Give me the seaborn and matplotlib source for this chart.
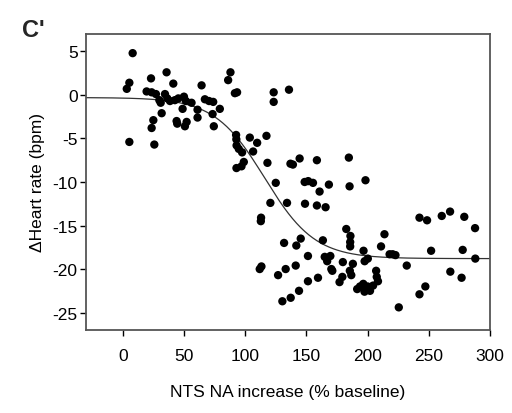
import numpy as np
import pandas as pd
import matplotlib
matplotlib.use("Agg")
import matplotlib.pyplot as plt
import seaborn as sns

# Noradrenaline increase in NTS (% of baseline) and heart-rate change (bpm)
na_increase = [
    3.3, 5.4, 8.1, 5.4, 19.5, 23.1, 23.6, 27.1, 29.9, 31.0,
    25.0, 23.6, 25.8, 31.8, 34.5, 35.8, 36.4, 38.6, 41.3, 42.6,
    45.4, 44.0, 44.5, 48.9, 50.0, 51.6, 50.8, 52.2, 56.2, 61.1,
    61.1, 64.4, 67.1, 70.5, 73.9, 73.4, 74.4, 79.3, 86.1, 88.0,
    91.6, 93.4,
    92.6, 92.8, 93.0, 94.8, 97.5, 103.8, 109.8, 117.4, 106.5, 98.9,
    97.0, 92.9, 118.2, 123.3, 123.3, 135.8, 137.0, 139.0, 144.5, 158.6,
    184.7, 198.3, 125.0, 148.6, 151.5, 155.4, 168.4, 160.8, 185.3, 120.6,
    134.2, 148.9, 158.6, 165.7, 113.0, 112.8, 182.6, 186.0, 185.8, 185.8,
    163.5, 145.4, 141.8, 131.8, 196.7, 197.6, 200.2, 151.3, 165.0, 167.0,
    169.6, 170.4, 171.2, 179.8, 188.0, 185.5, 186.7, 179.4, 177.1, 141.3,
    133.1, 126.9, 113.3, 111.9, 159.5, 151.3, 144.0, 137.2, 130.4,
    191.5, 193.8, 196.5, 197.5, 200.0, 202.0, 204.5,
    207.0, 207.5, 208.5, 211.0, 213.8, 218.0, 220.5, 222.8, 232.0, 225.5,
    242.4, 248.6, 260.6, 267.4, 279.0, 287.8, 251.9, 277.7, 288.0, 267.6,
    276.8, 247.2, 242.4,
]
hr_change = [
    0.7, 1.4, 4.8, -5.4, 0.4, 1.9, 0.3, 0.1, -0.6, -0.9,
    -2.9, -3.8, -5.7, -2.1, 0.1, 2.6, -0.4, -0.7, 1.3, -0.6,
    -0.4, -3.0, -3.3, -1.6, -0.2, -0.7, -3.6, -3.1, -0.9, -1.7,
    -2.6, 1.1, -0.5, -0.7, -0.8, -2.2, -3.6, -1.6, 1.7, 2.6,
    0.2, 0.3,
    -4.6, -5.1, -5.8, -6.2, -6.6, -4.9, -5.5, -4.7, -6.5, -7.7,
    -8.2, -8.4, -7.8, 0.3, -0.8, 0.6, -7.9, -8.0, -7.3, -7.5,
    -7.2, -9.8, -10.1, -10.0, -9.9, -10.1, -10.3, -11.1, -10.5, -12.4,
    -12.4, -12.5, -12.7, -12.9, -14.1, -14.5, -15.4, -16.2, -16.9, -17.4,
    -16.7, -16.5, -17.3, -17.0, -17.9, -19.1, -18.8, -18.5, -18.6, -19.1,
    -18.5, -20.0, -20.2, -19.2, -19.4, -20.2, -20.7, -20.9, -21.5, -19.6,
    -20.0, -20.7, -19.7, -20.0, -21.0, -21.4, -22.5, -23.3, -23.7,
    -22.3, -22.0, -21.7, -22.6, -22.0, -22.5, -21.9,
    -20.2, -20.9, -21.4, -17.4, -16.0, -18.3, -18.3, -18.4, -19.6, -24.4,
    -14.1, -14.4, -13.9, -13.4, -14.0, -15.3, -17.9, -17.8, -18.8, -20.3,
    -21.0, -22.0, -22.9,
]

# Sigmoidal fit parameters: baseline, amplitude, midpoint, slope
fit_bottom = -0.3
fit_span = -18.5
fit_x50 = 116.0
fit_slope = 20.5

x_ticks = [0, 50, 100, 150, 200, 250, 300]
y_ticks = [5, 0, -5, -10, -15, -20, -25]

df = pd.DataFrame({"na": na_increase, "hr": hr_change})
fit_x = np.linspace(-30, 300, 400)
fit_df = pd.DataFrame({
    "na": fit_x,
    "hr": fit_bottom + fit_span / (1 + np.exp(-(fit_x - fit_x50) / fit_slope)),
})

sns.set_theme(style="white")
plt.rcParams["font.family"] = ["Liberation Sans", "DejaVu Sans"]
plt.rcParams["axes.unicode_minus"] = False

fig = plt.figure(figsize=(5.12, 4.14), dpi=100)
ax = fig.add_axes([0.168, 0.2005, 0.789, 0.715])

sns.lineplot(data=fit_df, x="na", y="hr", ax=ax, color="#333333", lw=0.9)
sns.scatterplot(data=df, x="na", y="hr", ax=ax, color="black", s=36,
                edgecolor="none", zorder=3)

ax.set_xlim(-30, 300)
ax.set_ylim(-27, 7)
ax.set_xticks(x_ticks)
ax.set_yticks(y_ticks)
ax.tick_params(axis="both", which="both", direction="out", length=4,
               width=1, color="black", labelsize=12.5, labelcolor="black",
               bottom=True, left=True, top=False, right=False)
ax.tick_params(axis="x", pad=9)
ax.tick_params(axis="y", pad=2)
for sp in ax.spines.values():
    sp.set_color("#555555")
    sp.set_linewidth(1.3)

ax.set_xlabel("NTS NA increase (% baseline)", fontsize=12.5, labelpad=15,
              color="black")
ax.set_ylabel("ΔHeart rate (bpm)", fontsize=12.5, labelpad=5, color="black")
fig.text(0.043, 0.955, "C'", fontsize=17, fontweight="bold", ha="left", va="top")

fig.savefig("out.png", dpi=100)
